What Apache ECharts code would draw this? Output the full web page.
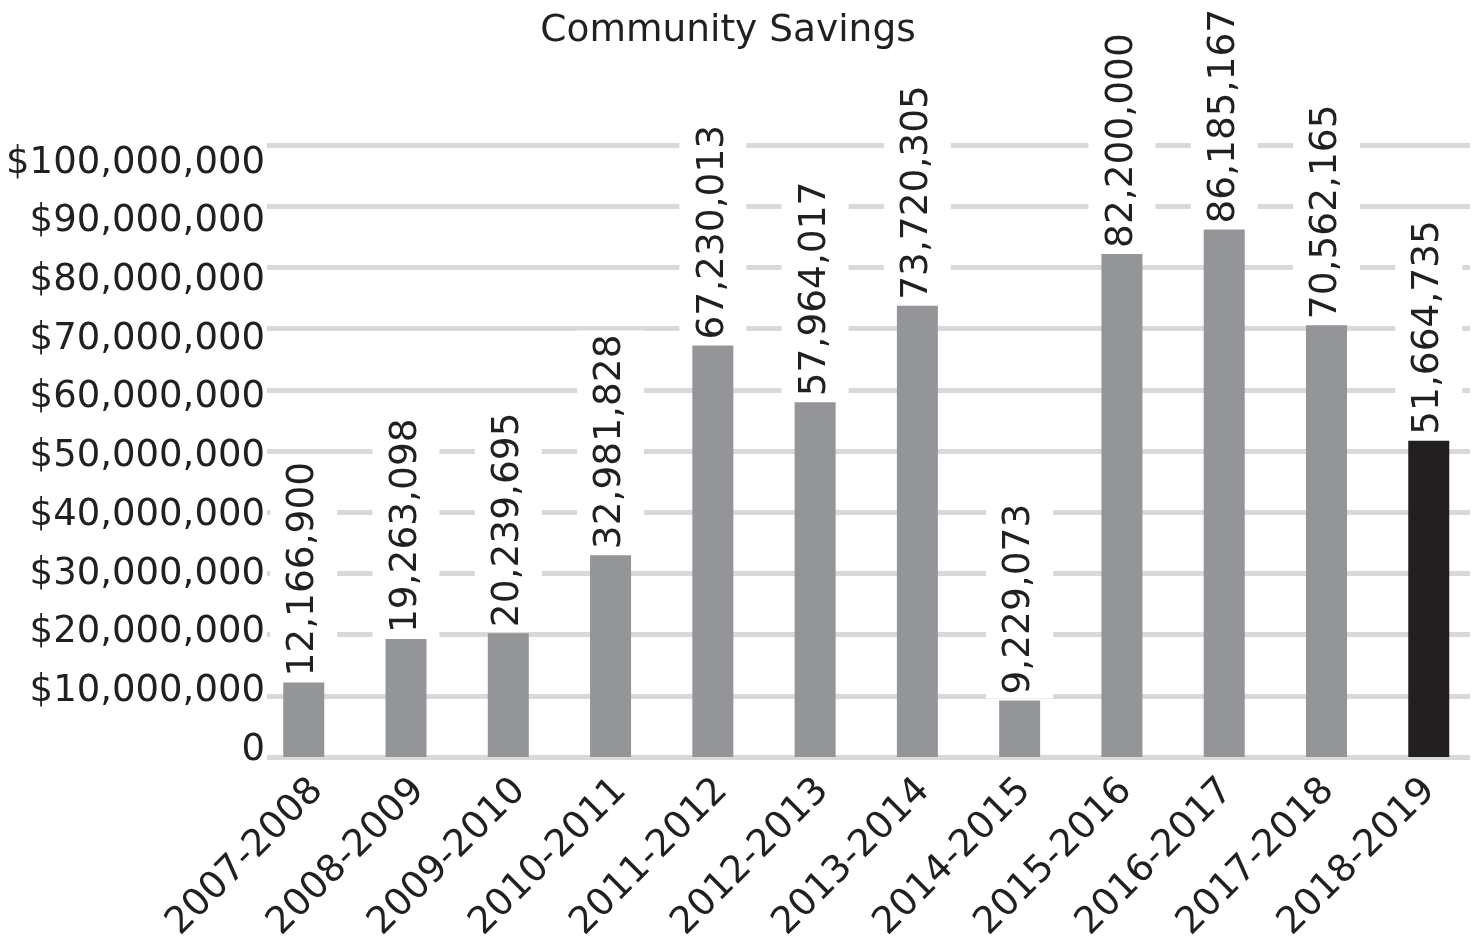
<!DOCTYPE html>
<html>
<head>
<meta charset="utf-8">
<script src="https://cdn.jsdelivr.net/npm/echarts@6/dist/echarts.min.js"></script>
<style>
html,body{margin:0;padding:0;background:#fff;}
#chart{width:1480px;height:945px;}
</style>
</head>
<body>
<div id="chart"></div>
<script>
var titleText = 'Community Savings';
var categories = ['2007-2008','2008-2009','2009-2010','2010-2011','2011-2012','2012-2013','2013-2014','2014-2015','2015-2016','2016-2017','2017-2018','2018-2019'];
var savings = [12166900, 19263098, 20239695, 32981828, 67230013, 57964017, 73720305, 9229073, 82200000, 86185167, 70562165, 51664735];
var yTickLabels = ['0','$10,000,000','$20,000,000','$30,000,000','$40,000,000','$50,000,000','$60,000,000','$70,000,000','$80,000,000','$90,000,000','$100,000,000'];
var highlightIndex = 11;

var FONT = 'DejaVu Sans';
var TXT = '#231f20';
var YMAX = 100000000, YSTEP = 10000000;

var chart = echarts.init(document.getElementById('chart'), null, {renderer:'canvas'});

var barData = savings.map(function(v, i){
  return { value: v, itemStyle: { color: i === highlightIndex ? '#231f20' : '#939598' } };
});

var option = {
  animation: false,
  backgroundColor: '#fff',
  title: {
    text: titleText,
    left: 723, top: 7, textAlign: 'center',
    textStyle: { fontFamily: FONT, fontSize: 37.5, fontWeight: 'normal', color: TXT }
  },
  grid: [
    { left: 267, right: 10, top: 145, bottom: 188 },          // gridlines
    { left: 252.6, width: 1227.3, top: 145, bottom: 188 },    // bars
    { left: 267, right: 10, top: 163, bottom: 195 },          // y tick labels
    { left: 267, width: 1227.3, top: 145, bottom: 188 }       // x category labels
  ],
  xAxis: [
    { gridIndex: 0, type: 'category', data: categories, show: false },
    { gridIndex: 1, type: 'category', data: categories, axisLine: {show:false}, axisTick: {show:false}, axisLabel: {show:false} },
    { gridIndex: 2, type: 'category', data: categories, show: false },
    { gridIndex: 3, type: 'category', data: categories, axisLine: {show:false}, axisTick: {show:false},
      axisLabel: { show: true, rotate: 45, margin: 31, interval: 0, fontFamily: FONT, fontSize: 37.5, color: TXT } }
  ],
  yAxis: [
    { gridIndex: 0, type: 'value', min: 0, max: YMAX, interval: YSTEP,
      axisLine: {show:false}, axisTick: {show:false}, axisLabel: {show:false},
      splitLine: { show: true, lineStyle: { color: '#d9d9d9', width: 5 } } },
    { gridIndex: 1, type: 'value', min: 0, max: YMAX, interval: YSTEP, show: false, splitLine: {show:false} },
    { gridIndex: 2, type: 'value', min: 0, max: YMAX, interval: YSTEP,
      axisLine: {show:false}, axisTick: {show:false}, splitLine: {show:false},
      axisLabel: { show: true, margin: 2, fontFamily: FONT, fontSize: 37, color: TXT,
        formatter: function(v){ return yTickLabels[Math.round(v / YSTEP)]; } } },
    { gridIndex: 3, type: 'value', min: 0, max: YMAX, interval: YSTEP, show: false, splitLine: {show:false} }
  ],
  series: [
    {
      type: 'bar', xAxisIndex: 1, yAxisIndex: 1,
      data: barData, barWidth: 41,
      label: {
        show: true, position: 'top', rotate: 90, align: 'left', verticalAlign: 'middle',
        distance: 2, padding: [15, 4, 15, 4], backgroundColor: '#fff',
        fontFamily: FONT, fontSize: 37.5, lineHeight: 37, color: TXT,
        formatter: function(p){ return p.value.toLocaleString('en-US'); }
      }
    }
  ]
};
chart.setOption(option);
</script>
</body>
</html>
